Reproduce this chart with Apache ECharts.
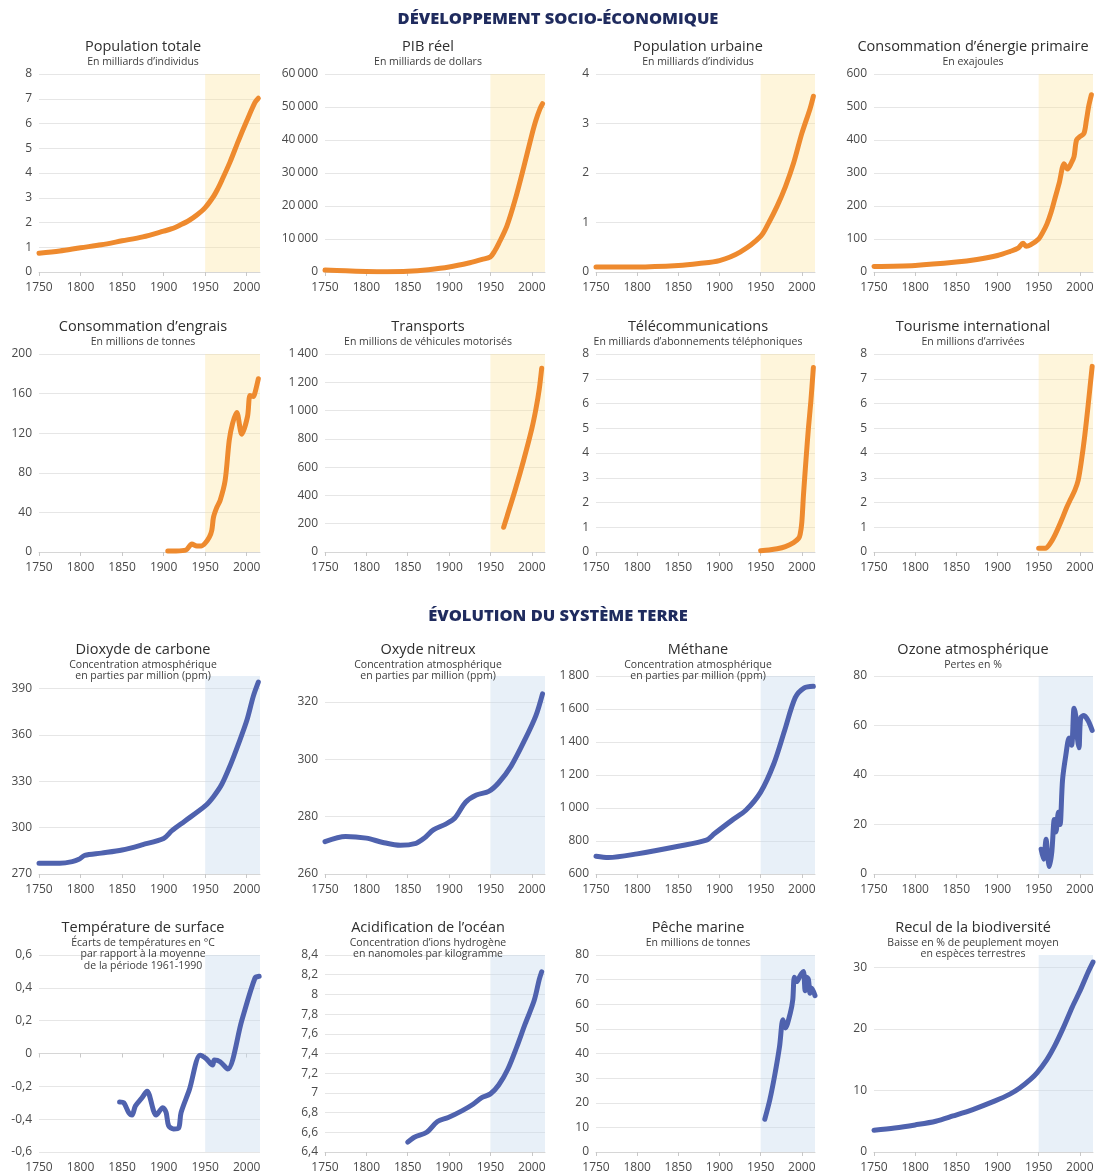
<!DOCTYPE html>
<html lang="fr">
<head>
<meta charset="utf-8">
<title>La grande accélération</title>
<script src="https://cdn.jsdelivr.net/npm/echarts@6/dist/echarts.min.js"></script>
<style>
  html, body { margin: 0; padding: 0; background: #ffffff; }
  #chart { width: 1099px; height: 1174px; }
</style>
</head>
<body>
<div id="chart"></div>
<script>
// ---- Données : [année, valeur] ----
const popTotale = [[1750,0.76],[1775,0.85],[1800,0.98],[1825,1.1],[1850,1.26],[1875,1.42],[1900,1.65],[1910,1.75],[1920,1.9],[1930,2.07],[1940,2.3],[1950,2.6],[1960,3.05],[1965,3.35],[1970,3.7],[1980,4.45],[1990,5.3],[2000,6.1],[2010,6.85],[2014,7.02]];
const pibReel = [[1750,600],[1775,350],[1800,150],[1825,80],[1850,200],[1875,700],[1900,1500],[1925,2800],[1940,3800],[1950,4600],[1955,6300],[1960,8600],[1970,14000],[1980,22000],[1990,31500],[2000,41500],[2005,46000],[2010,49500],[2013,51000]];
const popUrbaine = [[1750,0.1],[1800,0.1],[1850,0.13],[1875,0.17],[1900,0.23],[1925,0.4],[1950,0.72],[1960,1.0],[1970,1.33],[1980,1.72],[1990,2.2],[2000,2.8],[2010,3.3],[2014,3.55]];
const energie = [[1750,17],[1800,20],[1850,30],[1875,38],[1900,50],[1915,62],[1925,72],[1931,87],[1935,78],[1940,82],[1950,100],[1955,120],[1960,145],[1965,180],[1970,225],[1975,270],[1981,328],[1985,312],[1990,332],[1993,350],[1996,400],[2000,410],[2005,420],[2008,460],[2011,505],[2014,537]];
const engrais = [[1905,1],[1915,1],[1927,2],[1934,8],[1940,6],[1945,6],[1950,9],[1955,15],[1958,22],[1960,35],[1964,45],[1968,52],[1974,72],[1979,113],[1983,130],[1988,141],[1994,119],[2001,137],[2004,158],[2008,157],[2010,161],[2014,175]];
const transports = [[1966,175],[1970,250],[1980,440],[1990,645],[2000,870],[2005,1010],[2009,1150],[2012,1300]];
const telecom = [[1950,0.05],[1960,0.08],[1970,0.13],[1980,0.22],[1990,0.38],[1996,0.55],[1998,0.72],[2000,1.2],[2002,2.3],[2005,3.7],[2008,5.0],[2011,6.1],[2014,7.45]];
const tourisme = [[1950,0.15],[1958,0.15],[1965,0.4],[1971,0.77],[1978,1.3],[1984,1.8],[1989,2.15],[1994,2.5],[1998,2.9],[2002,3.7],[2006,4.7],[2010,5.9],[2015,7.5]];

const co2 = [[1750,277],[1775,277],[1790,278],[1798,279.5],[1805,282],[1825,283.5],[1850,285.5],[1875,289],[1900,293],[1910,298],[1925,304],[1950,314],[1960,320],[1970,328],[1980,340],[1990,354],[2000,369],[2008,385],[2014,394]];
const n2o = [[1750,271.3],[1775,273.1],[1800,272.5],[1820,271],[1841,270],[1860,270.7],[1870,272.5],[1881,275.4],[1896,277.4],[1907,279.5],[1920,285],[1933,287.5],[1948,288.8],[1960,291.8],[1975,297.6],[1992,307],[2005,315.2],[2013,322.8]];
const methane = [[1750,708],[1765,700],[1800,722],[1850,768],[1884,805],[1894,845],[1915,925],[1932,986],[1950,1096],[1966,1268],[1979,1468],[1992,1669],[2003,1728],[2014,1738]];
const ozone = [[1953,10],[1956,6],[1959,14],[1961,7],[1963,3],[1966,9],[1969,22],[1971,17],[1974,25],[1976,20],[1979,38],[1983,48],[1987,55],[1990,52],[1993,67],[1995,64],[1997,55],[1999,51],[2001,63],[2005,64],[2010,62],[2015,58]];
const temperature = [[1847,-0.295],[1852,-0.3],[1858,-0.36],[1862,-0.375],[1866,-0.32],[1874,-0.27],[1880,-0.23],[1891,-0.375],[1899,-0.33],[1903,-0.36],[1906,-0.44],[1912,-0.46],[1918,-0.455],[1921,-0.36],[1931,-0.22],[1944,-0.01],[1951,-0.03],[1959,-0.07],[1961,-0.04],[1968,-0.05],[1977,-0.095],[1994,0.2],[2010,0.46],[2015,0.47]];
const acidification = [[1850,6.5],[1858,6.55],[1873,6.6],[1886,6.71],[1899,6.75],[1916,6.82],[1929,6.885],[1939,6.95],[1950,6.99],[1960,7.08],[1971,7.24],[1982,7.47],[1992,7.7],[2003,7.94],[2009,8.15],[2012,8.23]];
const peche = [[1955,13.3],[1961,21],[1967,31],[1973,43],[1977,53.7],[1980,50.4],[1986,56.4],[1989,61.8],[1991,71],[1994,69.2],[1997,71],[2000,72.6],[2002,73.3],[2004,65.5],[2006,71],[2008,70],[2010,64.5],[2012,66.5],[2016,63.5]];
const biodiversite = [[1750,3.55],[1775,3.9],[1800,4.4],[1825,5.0],[1846,5.86],[1870,6.9],[1897,8.3],[1915,9.4],[1927,10.4],[1940,11.8],[1948,12.85],[1960,15],[1969,17.1],[1980,20.2],[1991,23.6],[2000,26.1],[2010,29.2],[2016,30.85]];

// ---- Graduations ----
const yearTicks = [1750, 1800, 1850, 1900, 1950, 2000];
const ticksPop = [0,1,2,3,4,5,6,7,8];
const ticksPib = [0,10000,20000,30000,40000,50000,60000];
const ticksUrb = [0,1,2,3,4];
const ticksEnergie = [0,100,200,300,400,500,600];
const ticksEngrais = [0,40,80,120,160,200];
const ticksTransports = [0,200,400,600,800,1000,1200,1400];
const ticksTelecom = [0,1,2,3,4,5,6,7,8];
const ticksTourisme = [0,1,2,3,4,5,6,7,8];
const ticksCo2 = [270,300,330,360,390];
const ticksN2o = [260,280,300,320];
const ticksMethane = [600,800,1000,1200,1400,1600,1800];
const ticksOzone = [0,20,40,60,80];
const ticksTemp = [-0.6,-0.4,-0.2,0,0.2,0.4,0.6];
const ticksAcid = [6.4,6.6,6.8,7,7.2,7.4,7.6,7.8,8,8.2,8.4];
const ticksPeche = [0,10,20,30,40,50,60,70,80];
const ticksBio = [0,10,20,30];

// ---- Panneaux ----
const panels = [
  { title: 'Population totale', sub: 'En milliards d\u2019individus', data: popTotale, ticks: ticksPop, min: 0, max: 8, theme: 'eco' },
  { title: 'PIB réel', sub: 'En milliards de dollars', data: pibReel, ticks: ticksPib, min: 0, max: 60000, theme: 'eco' },
  { title: 'Population urbaine', sub: 'En milliards d\u2019individus', data: popUrbaine, ticks: ticksUrb, min: 0, max: 4, theme: 'eco' },
  { title: 'Consommation d\u2019énergie primaire', sub: 'En exajoules', data: energie, ticks: ticksEnergie, min: 0, max: 600, theme: 'eco' },
  { title: 'Consommation d\u2019engrais', sub: 'En millions de tonnes', data: engrais, ticks: ticksEngrais, min: 0, max: 200, theme: 'eco' },
  { title: 'Transports', sub: 'En millions de véhicules motorisés', data: transports, ticks: ticksTransports, min: 0, max: 1400, theme: 'eco' },
  { title: 'Télécommunications', sub: 'En milliards d\u2019abonnements téléphoniques', data: telecom, ticks: ticksTelecom, min: 0, max: 8, theme: 'eco' },
  { title: 'Tourisme international', sub: 'En millions d\u2019arrivées', data: tourisme, ticks: ticksTourisme, min: 0, max: 8, theme: 'eco' },
  { title: 'Dioxyde de carbone', sub: 'Concentration atmosphérique\nen parties par million (ppm)', data: co2, ticks: ticksCo2, min: 270, max: 398, theme: 'terre' },
  { title: 'Oxyde nitreux', sub: 'Concentration atmosphérique\nen parties par million (ppm)', data: n2o, ticks: ticksN2o, min: 260, max: 329, theme: 'terre' },
  { title: 'Méthane', sub: 'Concentration atmosphérique\nen parties par million (ppm)', data: methane, ticks: ticksMethane, min: 600, max: 1800, theme: 'terre' },
  { title: 'Ozone atmosphérique', sub: 'Pertes en %', data: ozone, ticks: ticksOzone, min: 0, max: 80, theme: 'terre' },
  { title: 'Température de surface', sub: 'Écarts de températures en °C\npar rapport à la moyenne\nde la période 1961-1990', data: temperature, ticks: ticksTemp, min: -0.6, max: 0.6, theme: 'terre' },
  { title: 'Acidification de l\u2019océan', sub: 'Concentration d\u2019ions hydrogène\nen nanomoles par kilogramme', data: acidification, ticks: ticksAcid, min: 6.4, max: 8.4, theme: 'terre' },
  { title: 'Pêche marine', sub: 'En millions de tonnes', data: peche, ticks: ticksPeche, min: 0, max: 80, theme: 'terre' },
  { title: 'Recul de la biodiversité', sub: 'Baisse en % de peuplement moyen\nen espèces terrestres', data: biodiversite, ticks: ticksBio, min: 0, max: 32, theme: 'terre' }
];

// ---- Mise en page ----
const YEAR_MIN = 1750, YEAR_MAX = 2016, ANTHROPOCENE = 1950;
const colLeft = [39, 325, 596, 874];
const colWidth = [221, 220, 219, 219];
const titleCenter = [143, 428, 698, 973];
const rowTop = [74, 354, 676, 955];
const rowTitleTop = [39, 319, 642, 920];
const PLOT_H = 198;

const themes = {
  eco:   { line: '#EE8A2E', band: 'rgba(252, 228, 160, 0.38)' },
  terre: { line: '#4F62AE', band: 'rgba(200, 220, 238, 0.42)' }
};

const FONT = '"Open Sans", "Noto Sans", sans-serif';

function frNumber(v) {
  const r = Math.round(v * 100) / 100;
  let s = String(Math.abs(r));
  let [ip, dp] = s.split('.');
  if (ip.length > 3) ip = ip.replace(/\B(?=(\d{3})+(?!\d))/g, '\u2009');
  return (r < 0 ? '-' : '') + ip + (dp ? ',' + dp : '');
}

const grids = [], xAxes = [], yAxes = [], series = [], titles = [];

titles.push({
  text: 'DÉVELOPPEMENT SOCIO-ÉCONOMIQUE', left: 553, top: 6, textAlign: 'center',
  textStyle: { fontFamily: FONT, fontSize: 16.5, fontWeight: 800, color: '#1F2B5E' }
});
titles.push({
  text: 'ÉVOLUTION DU SYSTÈME TERRE', left: 553, top: 603, textAlign: 'center',
  textStyle: { fontFamily: FONT, fontSize: 16.5, fontWeight: 800, color: '#1F2B5E' }
});

panels.forEach((p, i) => {
  const col = i % 4, row = Math.floor(i / 4);
  const th = themes[p.theme];
  grids.push({ left: colLeft[col], top: rowTop[row], width: colWidth[col], height: PLOT_H, containLabel: false });
  xAxes.push({
    type: 'value', gridIndex: i, min: YEAR_MIN, max: YEAR_MAX,
    axisLine: { show: true, lineStyle: { color: '#d6d6d6', width: 1 } },
    axisTick: { show: true, length: 4, lineStyle: { color: '#c8c8c8' }, customValues: yearTicks },
    axisLabel: { customValues: yearTicks, margin: 10, fontFamily: FONT, fontSize: 12, color: '#4a4a4a', formatter: v => String(v) },
    splitLine: { show: false }
  });
  yAxes.push({
    type: 'value', gridIndex: i, min: p.min, max: p.max,
    axisLine: { show: false },
    axisTick: { show: false, customValues: p.ticks },
    axisLabel: { customValues: p.ticks, margin: 7, fontFamily: FONT, fontSize: 12, color: '#4a4a4a', formatter: frNumber },
    splitLine: { show: true, lineStyle: { color: '#e6e6e6', width: 1 } }
  });
  series.push({
    type: 'line', xAxisIndex: i, yAxisIndex: i, data: p.data,
    showSymbol: false, symbol: 'none', smooth: 0.3,
    lineStyle: { color: th.line, width: 5, cap: 'round', join: 'round' },
    silent: true, animation: false, z: 3,
    markArea: {
      silent: true,
      itemStyle: { color: th.band },
      data: [[{ xAxis: ANTHROPOCENE }, { xAxis: YEAR_MAX }]]
    }
  });
  titles.push({
    text: p.title, subtext: p.sub,
    left: titleCenter[col], top: rowTitleTop[row], textAlign: 'center', itemGap: 1, padding: 0,
    textStyle: { fontFamily: FONT, fontSize: 14.5, fontWeight: 400, color: '#2e2e2e', lineHeight: 16 },
    subtextStyle: { fontFamily: FONT, fontSize: 10.5, color: '#3c3c3c', lineHeight: 11.5 }
  });
});

const chart = echarts.init(document.getElementById('chart'), null, { renderer: 'canvas' });
chart.setOption({
  animation: false,
  backgroundColor: '#ffffff',
  title: titles,
  grid: grids,
  xAxis: xAxes,
  yAxis: yAxes,
  series: series
});
</script>
</body>
</html>
